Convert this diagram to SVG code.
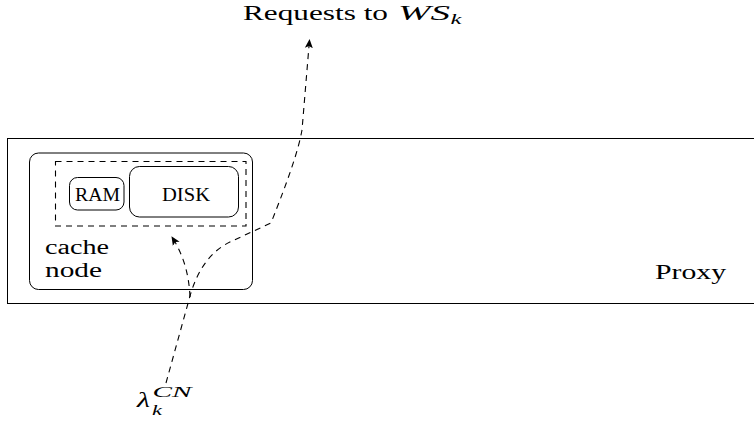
<svg xmlns="http://www.w3.org/2000/svg" width="754" height="423" viewBox="0 0 754 423">
<defs>
<style>
text{font-family:"Liberation Serif","DejaVu Serif",serif;fill:#000}
.box{fill:none;stroke:#000;stroke-width:1}
.dash{fill:none;stroke:#000;stroke-width:1.1;stroke-dasharray:6,5}
</style>
<marker id="ah" markerWidth="10" markerHeight="10" refX="8" refY="5" orient="auto" markerUnits="userSpaceOnUse">
<path d="M0,1 L9,5 L0,9 L2,5 Z" fill="#000"/>
</marker>
</defs>
<rect width="754" height="423" fill="#fff"/>
<g id="proxy">
<rect class="box" x="7.5" y="138.5" width="760" height="165" stroke="#333"/>
<text x="655" y="279" font-family="'Liberation Serif','DejaVu Serif',serif" font-size="22" textLength="71" lengthAdjust="spacingAndGlyphs">Proxy</text>
</g>
<g id="cache-node">
<rect class="box" x="29.5" y="153" width="223" height="136.5" rx="9"/>
<text x="45" y="253.5" font-family="'Liberation Serif','DejaVu Serif',serif" font-size="20" textLength="64" lengthAdjust="spacingAndGlyphs">cache</text>
<text x="45" y="276.5" font-family="'Liberation Serif','DejaVu Serif',serif" font-size="20" textLength="57" lengthAdjust="spacingAndGlyphs">node</text>
</g>
<g id="storage">
<rect class="dash" x="55.5" y="161.5" width="190.5" height="64.5" stroke-width="1"/>
</g>
<g id="ram">
<rect class="box" x="69.5" y="177.5" width="54.5" height="32.5" rx="8" stroke="#333"/>
<text x="75" y="201" font-family="'Liberation Serif','DejaVu Serif',serif" font-size="19" textLength="45" lengthAdjust="spacingAndGlyphs">RAM</text>
</g>
<g id="disk">
<rect class="box" x="129.5" y="166.5" width="109" height="50.5" rx="10" stroke="#333"/>
<text x="162" y="201" font-family="'Liberation Serif','DejaVu Serif',serif" font-size="19" textLength="48" lengthAdjust="spacingAndGlyphs">DISK</text>
</g>
<g id="connectors">
<path class="dash" d="M166,383 L190,296 C198,268 212,250 232,241 L271,223 C288,180 298,152 302,130 L309.5,40" marker-end="url(#ah)"/>
<path class="dash" d="M190,297 C189,275 184,256 172,237" marker-end="url(#ah)"/>
</g>
<g id="labels">
<text x="243" y="20" font-family="'Liberation Serif','DejaVu Serif',serif" font-size="22" textLength="145" lengthAdjust="spacingAndGlyphs">Requests to</text>
<text x="398" y="20" font-family="'Liberation Serif','DejaVu Serif',serif" font-size="22" font-style="italic" textLength="52" lengthAdjust="spacingAndGlyphs">WS</text>
<text x="450.5" y="24" font-family="'Liberation Serif','DejaVu Serif',serif" font-size="15" font-style="italic" textLength="11" lengthAdjust="spacingAndGlyphs">k</text>
<text x="137" y="407" font-family="'Liberation Serif','DejaVu Serif',serif" font-size="22" font-style="italic" textLength="13" lengthAdjust="spacingAndGlyphs">λ</text>
<text x="152.5" y="397" font-family="'Liberation Serif','DejaVu Serif',serif" font-size="15" font-style="italic" textLength="39" lengthAdjust="spacingAndGlyphs">CN</text>
<text x="152" y="415" font-family="'Liberation Serif','DejaVu Serif',serif" font-size="15" font-style="italic" textLength="10" lengthAdjust="spacingAndGlyphs">k</text>
</g>
</svg>
